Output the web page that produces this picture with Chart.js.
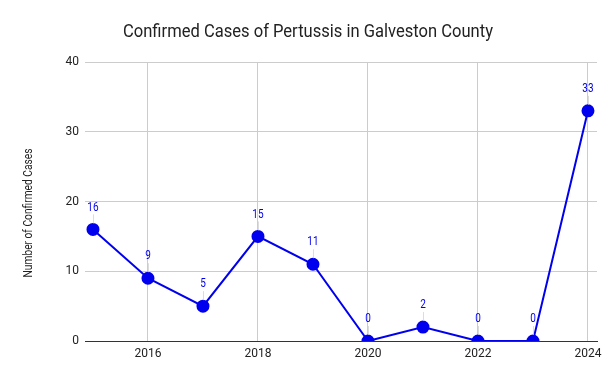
<!DOCTYPE html>
<html>
<head>
<meta charset="utf-8">
<script src="https://cdn.jsdelivr.net/npm/chart.js@4"></script>
<style>
  html, body { margin: 0; padding: 0; background: #fff; }
  #wrap { width: 616px; height: 381px; }
</style>
</head>
<body>
<div id="wrap"><canvas id="c" width="616" height="381"></canvas></div>
<script>
const years = [2015, 2016, 2017, 2018, 2019, 2020, 2021, 2022, 2023, 2024];
const cases = [16, 9, 5, 15, 11, 0, 2, 0, 0, 33];
const xTicks = [2016, 2018, 2020, 2022, 2024];
const yTicks = [0, 10, 20, 30, 40];
const titleText = 'Confirmed Cases of Pertussis in Galveston County';
const yTitleText = 'Number of Confirmed Cases';

const FONT = "'Roboto', sans-serif";
const BLUE = '#0000ee';

// draw text horizontally condensed (reference uses a narrow typeface)
function narrowText(ctx, text, x, y, sx) {
  ctx.save();
  ctx.translate(x, y);
  ctx.scale(sx, 1);
  ctx.fillText(text, 0, 0);
  ctx.restore();
}

const textPlugin = {
  id: 'textPlugin',
  afterDraw(chart) {
    const ctx = chart.ctx;
    const area = chart.chartArea;
    ctx.save();
    ctx.textAlign = 'center';
    ctx.textBaseline = 'middle';
    // title
    ctx.fillStyle = '#222';
    ctx.font = "18px " + FONT;
    narrowText(ctx, titleText, chart.width / 2, 32, 0.92);
    // y axis title
    ctx.save();
    ctx.translate(29, 213);
    ctx.rotate(-Math.PI / 2);
    ctx.font = "12px " + FONT;
    narrowText(ctx, yTitleText, 0, 0, 0.85);
    ctx.restore();
    ctx.restore();
  },
  afterDatasetsDraw(chart) {
    const ctx = chart.ctx;
    const meta = chart.getDatasetMeta(0);
    ctx.save();
    ctx.font = "12.5px " + FONT;
    ctx.textAlign = 'center';
    ctx.textBaseline = 'middle';
    meta.data.forEach((pt, i) => {
      const x = pt.x, y = pt.y;
      ctx.strokeStyle = 'rgba(205,205,205,0.7)';
      ctx.lineWidth = 1;
      ctx.beginPath();
      ctx.moveTo(Math.round(x) + 0.5, y - 15);
      ctx.lineTo(Math.round(x) + 0.5, y - 6);
      ctx.stroke();
      ctx.fillStyle = BLUE;
      narrowText(ctx, String(cases[i]), x, y - 22, 0.8);
    });
    ctx.restore();
  }
};

new Chart(document.getElementById('c'), {
  type: 'line',
  data: {
    datasets: [{
      data: years.map((y, i) => ({ x: y, y: cases[i] })),
      borderColor: BLUE,
      backgroundColor: BLUE,
      borderWidth: 2,
      pointRadius: 5.5,
      pointHoverRadius: 5.5,
      pointBackgroundColor: BLUE,
      pointBorderColor: BLUE,
      tension: 0
    }]
  },
  options: {
    responsive: false,
    animation: false,
    devicePixelRatio: 1,
    layout: { padding: { left: 0, right: 19, top: 62, bottom: 0 } },
    plugins: {
      legend: { display: false },
      tooltip: { enabled: false },
      title: { display: false }
    },
    scales: {
      x: {
        type: 'linear',
        min: 2014.855,
        max: 2024.164,
        afterBuildTicks: s => { s.ticks = xTicks.map(v => ({ value: v })); },
        afterFit: s => { s.height = 40; },
        ticks: {
          callback: v => String(v),
          color: '#222',
          font: { family: FONT, size: 12 },
          padding: 6,
          maxRotation: 0
        },
        grid: { color: '#cccccc', drawTicks: false, lineWidth: 1 },
        border: { display: true, color: '#333333', width: 1 }
      },
      y: {
        min: 0,
        max: 40,
        afterBuildTicks: s => { s.ticks = yTicks.map(v => ({ value: v })); },
        afterFit: s => { s.width = 85; },
        ticks: {
          color: '#222',
          font: { family: FONT, size: 12 },
          padding: 6
        },
        grid: {
          color: c => (c.tick && c.tick.value === 0) ? '#333333' : '#cccccc',
          drawTicks: false,
          lineWidth: 1
        },
        border: { display: false }
      }
    }
  },
  plugins: [textPlugin]
});
</script>
</body>
</html>
